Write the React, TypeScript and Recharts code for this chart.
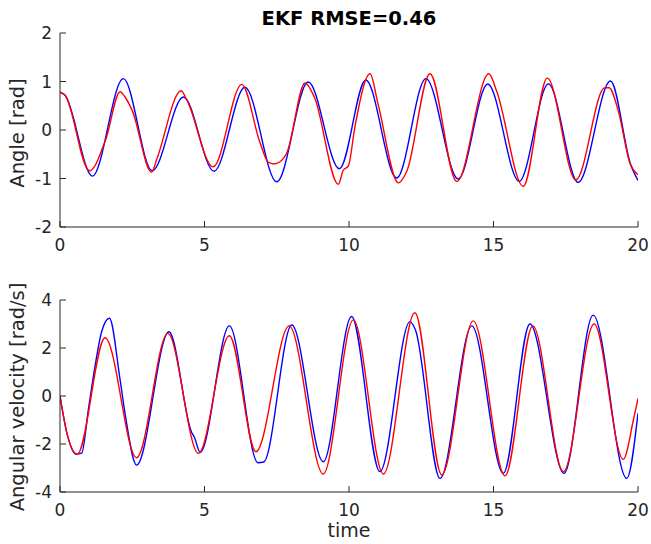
import { LineChart, Line, XAxis, YAxis } from "recharts"

// [time, value]
const angleTrue: [number, number][] = [
  [0, 0.78], [0.17, 0.72], [1.12, -0.95], [2.19, 1.06], [3.19, -0.84], [4.27, 0.68],
  [5.33, -0.85], [6.4, 0.88], [7.5, -1.07], [8.59, 0.99], [9.67, -0.8], [10.58, 1.03],
  [11.65, -0.99], [12.66, 1.06], [13.78, -1.01], [14.8, 0.95], [15.89, -1.06], [16.9, 0.95],
  [17.93, -1.08], [19.05, 1.01], [19.75, -0.72], [20, -1.04],
]

const angleEst: [number, number][] = [
  [0, 0.78], [0.17, 0.72], [1.02, -0.84], [1.58, -0.2], [2.08, 0.79], [2.25, 0.68], [2.5, 0.4],
  [3.17, -0.87], [3.35, -0.6], [4.19, 0.81], [4.38, 0.63], [5.3, -0.76], [6.29, 0.94],
  [6.92, -0.26], [7.2, -0.66], [7.4, -0.7], [7.6, -0.66], [7.85, -0.47], [8.48, 0.97],
  [8.8, 0.68], [9.63, -1.12], [9.8, -0.83], [9.98, -0.74], [10.2, 0.05], [10.73, 1.16],
  [11.0, 0.55], [11.71, -1.09], [12.0, -0.85], [12.8, 1.16], [13.73, -1.06], [14.84, 1.16],
  [15.11, 0.8], [16.03, -1.16], [16.86, 1.07], [17.85, -1.03], [18.85, 0.87], [19.0, 0.87],
  [19.32, 0.39], [19.72, -0.68], [20, -0.92],
]

const velTrue: [number, number][] = [
  [0, 0], [0.25, -1.6], [0.55, -2.42], [0.75, -2.38], [0.98, -0.58], [1.21, 1.22],
  [1.44, 2.68], [1.71, 3.24], [2.08, 0.67], [2.25, -0.72], [2.65, -2.88], [3.77, 2.68],
  [4.55, -1.5], [4.65, -1.72], [4.85, -2.35], [5.86, 2.92], [6.85, -2.78], [7.05, -2.75],
  [8.02, 2.96], [9.11, -2.74], [10.09, 3.31], [11.07, -3.15], [12.11, 3.1], [12.3, 2.75],
  [13.15, -3.43], [14.25, 2.92], [15.34, -3.22], [16.26, 3.0], [17.44, -3.22], [18.45, 3.37],
  [19.61, -3.43], [20, -0.72],
]

const velEst: [number, number][] = [
  [0, 0], [0.25, -1.6], [0.6, -2.42], [1.56, 2.43], [2.65, -2.57], [3.73, 2.61],
  [4.79, -2.39], [5.86, 2.51], [6.78, -2.32], [7.93, 2.92], [9.11, -3.25], [10.15, 3.17],
  [11.19, -3.25], [12.28, 3.47], [13.21, -3.29], [14.3, 3.13], [15.4, -3.33], [16.36, 2.92],
  [17.42, -3.15], [18.48, 3.0], [19.49, -2.64], [19.84, -1.0], [20, -0.1],
]

const timeTicks = [0, 5, 10, 15, 20]
const angleTicks = [-2, -1, 0, 1, 2]
const velTicks = [-4, -2, 0, 2, 4]

const AXIS = "#262626"
const FONT = "DejaVu Sans, sans-serif"
const TICK_FS = 17
const LABEL_FS = 19.5
const X_MARGIN = 10
const Y_MARGIN = 8

const toRows = (pts: [number, number][]) => pts.map(([t, v]) => ({ t, v }))

const XTick = (props: any) => {
  const { x, y, payload } = props
  const axisY = y - X_MARGIN
  return (
    <g>
      <line x1={x} x2={x} y1={axisY} y2={axisY - 6} stroke={AXIS} strokeWidth={1} />
      <text x={x} y={axisY + 24} textAnchor="middle" fill={AXIS} fontSize={TICK_FS} fontFamily={FONT}>
        {payload.value}
      </text>
    </g>
  )
}

const YTick = (props: any) => {
  const { x, y, payload } = props
  const axisX = x + Y_MARGIN
  return (
    <g>
      <line x1={axisX} x2={axisX + 6} y1={y} y2={y} stroke={AXIS} strokeWidth={1} />
      <text x={x} y={y} dy="0.36em" textAnchor="end" fill={AXIS} fontSize={TICK_FS} fontFamily={FONT}>
        {payload.value}
      </text>
    </g>
  )
}

function Panel({
  top, height, margin, yDomain, yTicks, blue, red,
}: {
  top: number
  height: number
  margin: { top: number; right: number; bottom: number; left: number }
  yDomain: [number, number]
  yTicks: number[]
  blue: [number, number][]
  red: [number, number][]
}) {
  return (
    <div style={{ position: "absolute", left: 0, top }}>
      <LineChart width={651} height={height} margin={margin}>
        <XAxis
          dataKey="t"
          type="number"
          domain={[0, 20]}
          ticks={timeTicks}
          height={30}
          tickSize={0}
          tickMargin={X_MARGIN}
          tick={<XTick />}
          axisLine={{ stroke: AXIS, strokeWidth: 1 }}
          tickLine={false}
          allowDataOverflow
        />
        <YAxis
          type="number"
          domain={yDomain}
          ticks={yTicks}
          width={60}
          tickSize={0}
          tickMargin={Y_MARGIN}
          tick={<YTick />}
          axisLine={{ stroke: AXIS, strokeWidth: 1 }}
          tickLine={false}
          allowDataOverflow
        />
        <Line
          data={toRows(blue)}
          dataKey="v"
          type="monotone"
          stroke="#0000ff"
          strokeWidth={1.4}
          dot={false}
          isAnimationActive={false}
        />
        <Line
          data={toRows(red)}
          dataKey="v"
          type="monotone"
          stroke="#ff0000"
          strokeWidth={1.4}
          dot={false}
          isAnimationActive={false}
        />
      </LineChart>
    </div>
  )
}

export default function App() {
  return (
    <div
      style={{
        position: "absolute",
        left: 0,
        top: 0,
        width: 651,
        height: 544,
        background: "#fff",
        overflow: "hidden",
      }}
    >
      <Panel
        top={0}
        height={260}
        margin={{ top: 33, right: 13, bottom: 3, left: 0 }}
        yDomain={[-2, 2]}
        yTicks={angleTicks}
        blue={angleTrue}
        red={angleEst}
      />
      <Panel
        top={270}
        height={260}
        margin={{ top: 30, right: 13, bottom: 8, left: 0 }}
        yDomain={[-4, 4]}
        yTicks={velTicks}
        blue={velTrue}
        red={velEst}
      />
      <svg width={651} height={544} style={{ position: "absolute", left: 0, top: 0, pointerEvents: "none" }}>
        <text x={349} y={25} textAnchor="middle" fontSize={19.5} fontWeight="bold" fill="#000" fontFamily={FONT}>
          EKF RMSE=0.46
        </text>
        <text
          x={24}
          y={133}
          transform="rotate(-90 24 133)"
          textAnchor="middle"
          fontSize={LABEL_FS}
          fill={AXIS}
          fontFamily={FONT}
        >
          Angle [rad]
        </text>
        <text
          x={24}
          y={397}
          transform="rotate(-90 24 397)"
          textAnchor="middle"
          fontSize={LABEL_FS}
          fill={AXIS}
          fontFamily={FONT}
        >
          Angular velocity [rad/s]
        </text>
        <text x={349} y={537} textAnchor="middle" fontSize={19} fill={AXIS} fontFamily={FONT}>
          time
        </text>
      </svg>
    </div>
  )
}
